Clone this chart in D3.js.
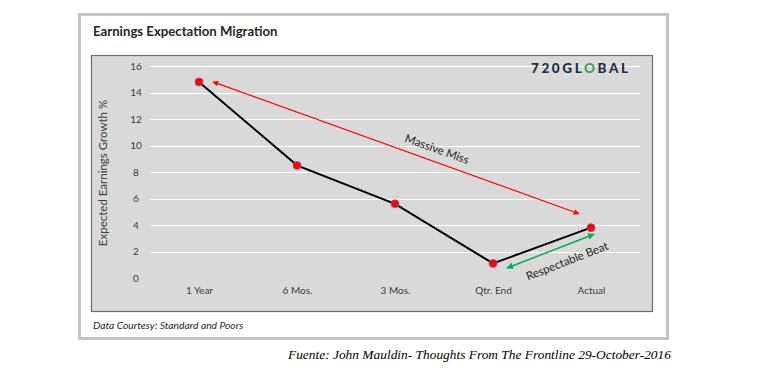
<!DOCTYPE html>
<html lang="en">
<meta charset="UTF-8">
<title>Earnings Expectation Migration</title>
<script src="https://d3js.org/d3.v7.min.js"></script>
<style>
body { margin: 0; background: #fff; }
svg { display: block; font-family: Lato, "Open Sans", sans-serif; }
.tick text { fill: #3a3a3a; font-size: 10px; font-family: Lato, "Open Sans", sans-serif; }
.grid line { stroke: #fff; stroke-width: 1; }
</style>
<body>
<script>
// chart data
var categories = ["1 Year", "6 Mos.", "3 Mos.", "Qtr. End", "Actual"]
var growth = [14.8, 8.5, 5.6, 1.1, 3.8]
var yTicks = [0, 2, 4, 6, 8, 10, 12, 14, 16]

var W = 765, H = 384

var svg = d3.select("body").append("svg")
  .attr("width", W)
  .attr("height", H)

// outer frame
svg.append("rect")
  .attr("x", 79.5).attr("y", 14.5)
  .attr("width", 588).attr("height", 324)
  .attr("fill", "#fff")
  .attr("stroke", "#c3c3c3")
  .attr("stroke-width", 3)

// plot box
svg.append("rect")
  .attr("x", 91.5).attr("y", 55.5)
  .attr("width", 561).attr("height", 256)
  .attr("fill", "#d9d9d9")
  .attr("stroke", "#6d6d6d")
  .attr("stroke-width", 1.2)

var x = d3.scalePoint()
  .domain(categories)
  .range([199, 591])

var y = d3.scaleLinear()
  .domain([0, 16])
  .range([278, 66])

// gridlines (no line at 0)
svg.append("g")
  .attr("class", "grid")
  .selectAll("line")
  .data(yTicks.filter(function(d) { return d > 0 }))
  .enter().append("line")
  .attr("x1", 150).attr("x2", 640)
  .attr("y1", function(d) { return Math.round(y(d)) + 0.5 })
  .attr("y2", function(d) { return Math.round(y(d)) + 0.5 })

var yAxis = svg.append("g")
  .attr("transform", "translate(140,0)")
  .call(d3.axisLeft(y).tickValues(yTicks).tickSize(0).tickPadding(0))
yAxis.select(".domain").remove()
yAxis.selectAll("text").attr("text-anchor", "middle").attr("x", -4)

var xAxis = svg.append("g")
  .attr("transform", "translate(0,287)")
  .call(d3.axisBottom(x).tickSize(0).tickPadding(0))
xAxis.select(".domain").remove()

svg.append("text")
  .attr("transform", "translate(107,173) rotate(-90)")
  .attr("text-anchor", "middle")
  .attr("fill", "#404040")
  .style("font-size", "11.5px")
  .text("Expected Earnings Growth %")

// arrows
var defs = svg.append("defs")
function marker(id, color) {
  defs.append("marker")
    .attr("id", id)
    .attr("viewBox", "0 0 10 10")
    .attr("refX", 9).attr("refY", 5)
    .attr("markerWidth", 4.5).attr("markerHeight", 4.5)
    .attr("orient", "auto-start-reverse")
    .append("path")
    .attr("d", "M0,0L10,5L0,10Z")
    .attr("fill", color)
}
marker("ar-red", "#ff0000")
marker("ar-green", "#00b050")

var red = [x("1 Year") + 14, y(14.8), x("Actual") - 12, y(4.85)]
var green = [x("Qtr. End") + 14, y(0.75), x("Actual") + 3, y(3.3)]

svg.append("line")
  .attr("x1", red[0]).attr("y1", red[1]).attr("x2", red[2]).attr("y2", red[3])
  .attr("stroke", "#ff0000").attr("stroke-width", 1.3)
  .attr("marker-start", "url(#ar-red)").attr("marker-end", "url(#ar-red)")

svg.append("line")
  .attr("x1", green[0]).attr("y1", green[1]).attr("x2", green[2]).attr("y2", green[3])
  .attr("stroke", "#00b050").attr("stroke-width", 1.5)
  .attr("marker-start", "url(#ar-green)").attr("marker-end", "url(#ar-green)")

// data line
var line = d3.line()
  .x(function(d, i) { return x(categories[i]) })
  .y(function(d) { return y(d) })

svg.append("path")
  .datum(growth)
  .attr("d", line)
  .attr("fill", "none")
  .attr("stroke", "#000")
  .attr("stroke-width", 2)

svg.selectAll("circle.pt")
  .data(growth)
  .enter().append("circle")
  .attr("class", "pt")
  .attr("cx", function(d, i) { return x(categories[i]) })
  .attr("cy", function(d) { return y(d) })
  .attr("r", 4)
  .attr("fill", "#ff0000")
  .attr("stroke", "#8a5a9a")
  .attr("stroke-width", 0.8)

// annotation labels
svg.append("text")
  .attr("transform", "translate(437,149) rotate(19.7)")
  .attr("text-anchor", "middle")
  .attr("dy", "0.35em")
  .attr("fill", "#262626")
  .style("font-size", "11.5px")
  .text("Massive Miss")

svg.append("text")
  .attr("transform", "translate(567,261) rotate(-21.3)")
  .attr("text-anchor", "middle")
  .attr("dy", "0.35em")
  .attr("fill", "#262626")
  .style("font-size", "11.5px")
  .text("Respectable Beat")

// title, logo, notes
svg.append("text")
  .attr("x", 93).attr("y", 36)
  .attr("fill", "#262626")
  .style("font-size", "13.2px")
  .style("font-weight", "bold")
  .text("Earnings Expectation Migration")

var logo = svg.append("text")
  .attr("x", 531).attr("y", 73)
  .attr("fill", "#1f2d4e")
  .style("font-size", "13.5px")
  .style("font-weight", "900")
  .style("letter-spacing", "2.6px")
logo.append("tspan").text("720GL")
logo.append("tspan").attr("fill", "#3aa655").text("O")
logo.append("tspan").text("BAL")

svg.append("text")
  .attr("x", 93).attr("y", 329)
  .attr("fill", "#262626")
  .style("font-size", "10.3px")
  .style("font-style", "italic")
  .text("Data Courtesy: Standard and Poors")

svg.append("text")
  .attr("x", 288).attr("y", 359)
  .attr("fill", "#000")
  .style("font-family", "'Liberation Serif', 'Times New Roman', serif")
  .style("font-size", "13.4px")
  .style("font-style", "italic")
  .text("Fuente: John Mauldin- Thoughts From The Frontline 29-October-2016")
</script>
</body>
</html>
